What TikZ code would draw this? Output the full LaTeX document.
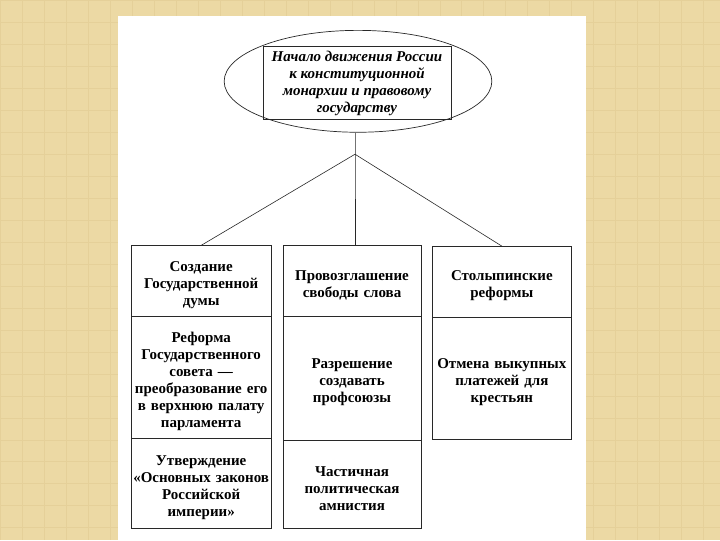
\documentclass[tikz,border=0pt]{standalone}
\usepackage{fontspec}
\setmainfont{Liberation Serif}
\usetikzlibrary{positioning,shapes.geometric}

\definecolor{fondo}{RGB}{236,217,164}
\definecolor{tejido}{RGB}{229,208,153}
\definecolor{trazo}{RGB}{40,40,40}

\tikzset{
  celda/.style={draw=trazo, line width=0.8pt, inner sep=0pt, outer sep=0pt,
    text width=#1, align=center, font=\fontsize{15}{17}\selectfont\bfseries,
    execute at begin node={\rule{0pt}{18pt}}},
  celda/.default=140pt,
  rama/.style={trazo, line width=0.6pt}
}

\begin{document}
\begin{tikzpicture}[x=1pt, y=-1pt]

  % Fondo con tejido tenue y hoja blanca
  \fill[fondo] (0,0) rectangle (720,540);
  \foreach \x in {0, 22, ..., 720} {
    \draw[tejido, line width=0.8pt] (\x, 0) -- (\x, 540);
  }
  \foreach \y in {0, 22, ..., 540} {
    \draw[tejido, line width=0.8pt] (0, \y) -- (720, \y);
  }
  \fill[white] (118,16) rectangle (586,540);
  \useasboundingbox (0,0) rectangle (720,540);

  % Elipse con el titulo
  \node[ellipse, draw=trazo, line width=0.7pt, minimum width=268pt, minimum height=102pt,
        inner sep=0pt] (elipse) at (358,81) {};
  \node[draw=trazo, line width=0.8pt, minimum width=188pt, minimum height=73pt, inner sep=0pt,
        align=center, font=\fontsize{15}{17}\selectfont\bfseries\itshape] (titulo) at (357,83)
    {Начало движения России\\ к конституционной\\ монархии и правовому\\ государству};

  % Columna izquierda
  \node[celda, minimum width=140pt, minimum height=71.5pt] (duma) at (201,281)
    {Создание\\ Государственной\\ думы};
  \node[celda, minimum width=140pt, minimum height=122pt, below=0pt of duma] (sovet)
    {Реформа\\ Государственного\\ совета —\\ преобразование его\\ в верхнюю палату\\ парламента};
  \node[celda, minimum width=140pt, minimum height=89.5pt, below=0pt of sovet] (zakony)
    {Утверждение\\ «Основных законов\\ Российской\\ империи»};

  % Columna central
  \node[celda=138pt, minimum width=138pt, minimum height=71.5pt] (svoboda) at (352,281)
    {Провозглашение\\ свободы слова};
  \node[celda=138pt, minimum width=138pt, minimum height=123.5pt, below=0pt of svoboda] (profsoyuzy)
    {Разрешение\\ создавать\\ профсоюзы};
  \node[celda=138pt, minimum width=138pt, minimum height=88pt, below=0pt of profsoyuzy] (amnistiya)
    {Частичная\\ политическая\\ амнистия};

  % Columna derecha
  \node[celda, minimum width=140pt, minimum height=71pt] (stolypin) at (502,281.5)
    {Столыпинские\\ реформы};
  \node[celda, minimum width=140pt, minimum height=122pt, below=0pt of stolypin] (platezhi)
    {Отмена выкупных\\ платежей для\\ крестьян};

  % Ramas
  \coordinate (nudo) at (355,154);
  \draw[rama] (elipse.south -| nudo) -- (nudo) -- (nudo |- svoboda.north);
  \draw[rama] (nudo) -- (duma.north);
  \draw[rama] (nudo) -- (stolypin.north);

\end{tikzpicture}
\end{document}
